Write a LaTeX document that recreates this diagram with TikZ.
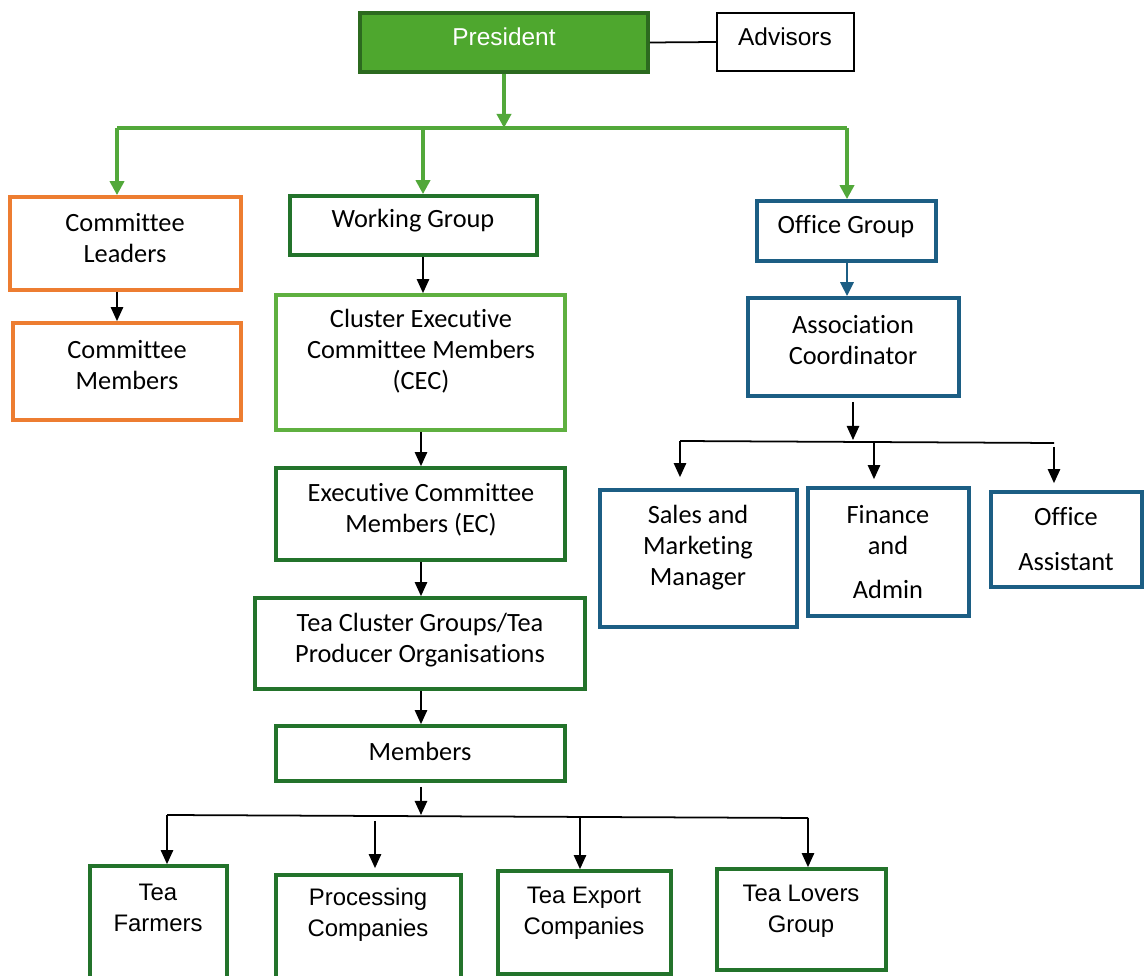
\documentclass[tikz,border=0pt]{standalone}
\usepackage{fontspec}
\setmainfont{Carlito}[Ligatures=NoCommon]
\newfontfamily\arialf{Liberation Sans}
\usetikzlibrary{arrows.meta,fit}
\definecolor{orgc}{HTML}{ED7D31}
\definecolor{presfill}{HTML}{4EA72E}
\definecolor{presdraw}{HTML}{2C6A1F}
\definecolor{dkg}{HTML}{23732B}
\definecolor{ltg}{HTML}{5FB040}
\definecolor{garc}{HTML}{52A83A}
\definecolor{bluec}{HTML}{1C5E84}
\begin{document}
\begin{tikzpicture}[x=0.02cm,y=-0.02cm,
  box/.style={draw, line width=2.1pt, inner sep=0pt},
  lbl/.style={align=center, inner sep=0pt, font=\fontsize{15}{17.6}\selectfont},
  albl/.style={align=center, inner sep=0pt, font=\arialf\fontsize{13.9}{17.6}\selectfont},
  blbl/.style={align=center, inner sep=0pt, font=\arialf\fontsize{13.6}{17.6}\selectfont},
  arr/.style={line width=1pt, -{Triangle[length=8pt,width=7pt]}},
  garr/.style={draw=garc, line width=2pt, -{Triangle[length=8pt,width=8pt]}},
  gline/.style={draw=garc, line width=2pt},
  barr/.style={draw=bluec, line width=1.5pt, -{Triangle[length=8pt,width=7.5pt]}},
  thin/.style={line width=1pt}]
\clip (0,0) rectangle (1144,976);
\fill[white] (0,0) rectangle (1144,976);

% boxes
\node[box, fill=presfill, draw=presdraw, fit={(360,13) (648,72)}] (pres) {};
\node[box, line width=1.1pt, fit={(717,13) (854,71)}] (adv) {};
\node[box, draw=orgc, fit={(10,197) (241,290)}] (cl) {};
\node[box, draw=orgc, fit={(13,323) (241,420)}] (cm) {};
\node[box, draw=dkg, fit={(290,196) (537,255)}] (wg) {};
\node[box, draw=ltg, fit={(276,295) (565,430)}] (cec) {};
\node[box, draw=dkg, fit={(276,468) (565,560)}] (ec) {};
\node[box, draw=dkg, fit={(255,598) (585,689)}] (tcg) {};
\node[box, draw=dkg, fit={(276,726) (565,781)}] (mem) {};
\node[box, draw=bluec, fit={(757,201) (936,261)}] (og) {};
\node[box, draw=bluec, fit={(748,298) (959,396)}] (ac) {};
\node[box, draw=bluec, fit={(600,490) (797,627)}] (smm) {};
\node[box, draw=bluec, fit={(808,488) (969,616)}] (fa) {};
\node[box, draw=bluec, fit={(991,492) (1142,587)}] (oa) {};
\node[box, draw=dkg, fit={(90,866) (227,995)}] (tf) {};
\node[box, draw=dkg, fit={(276,875) (461,995)}] (pc) {};
\node[box, draw=dkg, fit={(498,871) (671,974)}] (te) {};
\node[box, draw=dkg, fit={(717,869) (886,970)}] (tl) {};

% labels
\node[albl, text=white] (pres-t) at (504,37) {President};
\node[albl] (adv-t) at (785,37) {Advisors};
\node[lbl] (cl-t) at (125,238) {Committee\\Leaders};
\node[lbl] (cm-t) at (127,365) {Committee\\Members};
\node[lbl] (wg-t) at (413,221) {Working Group};
\node[lbl] (cec-t) at (421,351) {Cluster Executive\\Committee Members\\(CEC)};
\node[lbl] (ec-t) at (421,510) {Executive Committee\\Members (EC)};
\node[lbl] (tcg-t) at (420,640) {Tea Cluster Groups/Tea\\Producer Organisations};
\node[lbl] (mem-t) at (420,751) {Members};
\node[lbl] (og-t) at (846,227) {Office Group};
\node[lbl] (ac-t) at (853,340) {Association\\Coordinator};
\node[lbl] (smm-t) at (698,548) {Sales and\\Marketing\\Manager};
\node[lbl] (fa-t) at (888,552) {Finance\\and\\[0.26cm]Admin};
\node[lbl] (oa-t) at (1066,539) {Office\\[0.28cm]Assistant};
\node[blbl] (tf-t) at (158,908) {Tea\\Farmers};
\node[blbl] (pc-t) at (368,915) {Processing\\Companies};
\node[blbl] (te-t) at (584,913) {Tea Export\\Companies};
\node[blbl] (tl-t) at (801,911) {Tea Lovers\\Group};

% coordinates
\coordinate (gT) at (504,128);
\coordinate (gL) at (117,128);
\coordinate (gM) at (423,128);
\coordinate (gR) at (847,128);
\coordinate (cx) at (421,0);
\coordinate (m0) at (421,787);
\coordinate (mb) at (421,815);
\coordinate (bL) at (167,815);
\coordinate (bR) at (808,818);
\coordinate (bP) at (375,821);
\coordinate (bE) at (580,817);
\coordinate (a0) at (853,402);
\coordinate (ab) at (853,440);
\coordinate (rL) at (680,441);
\coordinate (rR) at (1054,443);
\coordinate (rF) at (874,442);
\coordinate (rO) at (1054,447);

% connectors
\draw[thin] (pres.east) -- (adv.west);
\draw[garr] (pres.south) -- (gT);
\draw[gline] (gL) -- (gR);
\draw[garr] (gL) -- (gL |- cl.north);
\draw[garr] (gM) -- (gM |- wg.north);
\draw[garr] (gR) -- (gR |- og.north);

\draw[arr] (cl.south -| gL) -- (cm.north -| gL);
\draw[arr] (wg.south -| gM) -- (cec.north -| gM);
\draw[arr] (cec.south -| cx) -- (ec.north -| cx);
\draw[arr] (ec.south -| cx) -- (tcg.north -| cx);
\draw[arr] (tcg.south -| cx) -- (mem.north -| cx);
\draw[arr] (m0) -- (mb);
\draw[thin] (bL) -- (bR);
\draw[arr] (bL) -- (tf.north -| bL);
\draw[arr, shorten >=0.1cm] (bP) -- (pc.north -| bP);
\draw[arr] (bE) -- (te.north -| bE);
\draw[arr] (bR) -- (tl.north -| bR);

\draw[barr] (og.south -| gR) -- (ac.north -| gR);
\draw[arr] (a0) -- (ab);
\draw[thin] (rL) -- (rR);
\draw[arr, shorten >=0.22cm] (rL) -- (smm.north -| rL);
\draw[arr, shorten >=0.14cm] (rF) -- (fa.north -| rF);
\draw[arr, shorten >=0.14cm] (rO) -- (oa.north -| rO);
\end{tikzpicture}
\end{document}
